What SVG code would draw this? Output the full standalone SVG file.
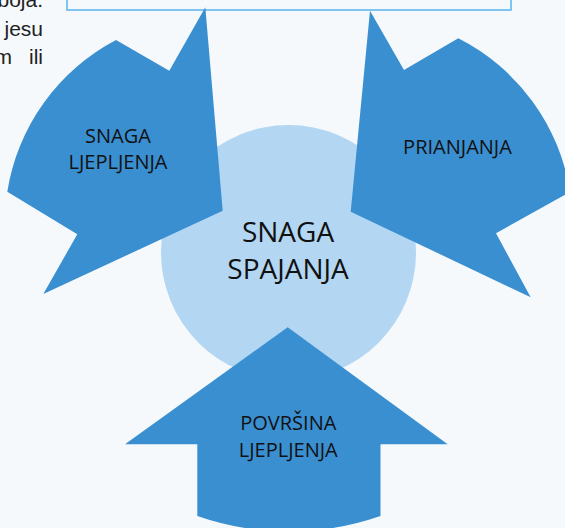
<svg xmlns="http://www.w3.org/2000/svg" width="565" height="528" viewBox="0 0 565 528">
  <style>
    .arrow { fill: #3a8fd1; }
    .lbl { font-family: "Open Sans", "Noto Sans", sans-serif; font-size: 20px; fill: #111; text-anchor: middle; }
    .big { font-size: 28px; }
    .para { font-family: "Liberation Sans", Arial, sans-serif; fill: #222; text-anchor: end; }
  </style>
  <rect x="0" y="0" width="565" height="528" fill="#f5f9fc"/>
  <g id="paragraph" font-size="21" style="font-size:21px">
    <text class="para" x="43" y="7" font-size="21">boja.</text>
    <text class="para" x="43" y="35.5" font-size="21">jesu</text>
    <text class="para" x="12" y="64" font-size="21">m</text>
    <text class="para" x="43" y="64" font-size="21">ili</text>
  </g>
  <g id="top-box">
    <rect x="67" y="-20" width="444" height="30" fill="#f5f9fc" stroke="#5ab4ee" stroke-width="1.5"/>
  </g>
  <g id="center">
    <circle cx="288.5" cy="252.5" r="127.5" fill="#b3d6f3"/>
    <text class="lbl big" x="288" y="241.5">SNAGA</text>
    <text class="lbl big" x="288" y="278.5">SPAJANJA</text>
  </g>
  <g id="connectors"/>
  <g id="snaga-ljepljenja">
    <path class="arrow" d="M205.3,7.3 L169.3,70.7 L116,40 A208,208 0 0 0 7.3,191.7 L77.3,234.3 L43.3,294 L222.7,210.7 Z"/>
    <text class="lbl" x="118" y="142.7">SNAGA</text>
    <text class="lbl" x="118" y="168.5">LJEPLJENJA</text>
  </g>
  <g id="prianjanja">
    <path class="arrow" d="M370,10.7 L404,70 L458.3,38.3 A208,208 0 0 1 570,192 L496,233.3 L530.7,297.3 L350.7,211.7 Z"/>
    <text class="lbl" x="457.5" y="154">PRIANJANJA</text>
  </g>
  <g id="povrsina-ljepljenja">
    <path class="arrow" d="M287.7,327.3 L447.7,444.3 L380.5,444.3 L380.5,516 A279,279 0 0 1 197.3,516 L197.3,444.3 L125,444.3 Z"/>
    <text class="lbl" x="288.3" y="430">POVRŠINA</text>
    <text class="lbl" x="288.3" y="456.7">LJEPLJENJA</text>
  </g>
</svg>
